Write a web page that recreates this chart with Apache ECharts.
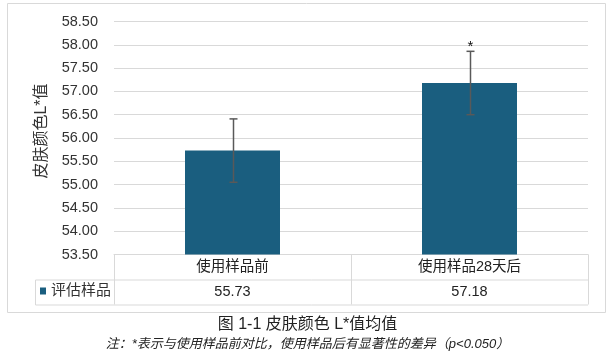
<!DOCTYPE html>
<html>
<head>
<meta charset="utf-8">
<script src="https://cdn.jsdelivr.net/npm/echarts@6/dist/echarts.min.js"></script>
<style>
html,body{margin:0;padding:0;background:#fff;}
#c{width:615px;height:358px;}
</style>
</head>
<body>
<div id="c"></div>
<script>
const categories = ['使用样品前', '使用样品28天后'];
const means = [55.73, 57.18];
const sds = [0.68, 0.68];
const significance = ['', '*'];
const seriesName = '评估样品';
const yMin = 53.5, yMax = 58.5, yStep = 0.5;
const yAxisName = '皮肤颜色L*值';
const captionText = '图 1-1 皮肤颜色 L*值均值';
const noteText = '注：*表示与使用样品前对比，使用样品后有显著性的差异（p<0.050）';

const FONT = '"Liberation Sans", Arial, "Noto Sans CJK SC", sans-serif';
const GRID = {left: 114, right: 27, top: 21.5, bottom: 103.5};
const W = 615, H = 358;
const tableLeft = 35;
const row1Bottom = H - GRID.bottom + 25;
const row2Bottom = H - GRID.bottom + 50;
const lineColor = '#d9d9d9';

const chart = echarts.init(document.getElementById('c'), null, {renderer: 'canvas'});

const option = {
  animation: false,
  textStyle: {fontFamily: FONT},
  title: {
    text: captionText,
    subtext: noteText,
    left: 'center',
    top: 317,
    itemGap: 5,
    padding: 0,
    textStyle: {fontSize: 16, fontWeight: 'normal', color: '#222', fontFamily: FONT},
    subtextStyle: {fontSize: 13, fontStyle: 'italic', color: '#222', fontFamily: FONT}
  },
  legend: {
    data: [seriesName],
    left: tableLeft + 5,
    top: row1Bottom + 4,
    padding: 0,
    icon: 'rect',
    itemWidth: 6,
    itemHeight: 7,
    itemGap: 4,
    textStyle: {fontSize: 15, color: '#333', fontFamily: FONT}
  },
  grid: GRID,
  xAxis: [
    {
      type: 'category',
      data: categories,
      position: 'bottom',
      axisLine: {show: true, lineStyle: {color: lineColor, width: 1}},
      axisTick: {show: true, length: 50, interval: 0, lineStyle: {color: lineColor, width: 1}},
      axisLabel: {margin: 5, fontSize: 14.5, color: '#222', fontFamily: FONT},
      splitLine: {show: false}
    },
    {
      type: 'category',
      data: means.map(v => v.toFixed(2)),
      position: 'bottom',
      offset: 25,
      axisLine: {show: false},
      axisTick: {show: false},
      axisLabel: {margin: 5, fontSize: 14.5, color: '#222', fontFamily: FONT}
    }
  ],
  yAxis: {
    type: 'value',
    min: yMin,
    max: yMax,
    interval: yStep,
    name: yAxisName,
    nameLocation: 'middle',
    nameGap: 64,
    nameTextStyle: {fontSize: 16, color: '#333', fontFamily: FONT, padding: [0, 0, 0, 14]},
    axisLine: {show: false},
    axisTick: {show: false},
    axisLabel: {margin: 16, fontSize: 14.5, color: '#333', fontFamily: FONT, formatter: v => v.toFixed(2)},
    splitLine: {lineStyle: {color: lineColor, width: 1}}
  },
  series: [
    {
      name: seriesName,
      type: 'bar',
      data: means,
      barWidth: 95,
      itemStyle: {color: '#1a5e7f'}
    },
    {
      type: 'custom',
      name: 'err',
      data: means.map((m, i) => [i, m - sds[i], m + sds[i]]),
      z: 10,
      renderItem: function (params, api) {
        const i = api.value(0);
        const lo = api.coord([i, api.value(1)]);
        const hi = api.coord([i, api.value(2)]);
        const x = Math.round(lo[0]) + 0.5;
        const cap = 4;
        const style = {stroke: '#595959', lineWidth: 1.5};
        const children = [
          {type: 'line', shape: {x1: x, y1: lo[1], x2: x, y2: hi[1]}, style},
          {type: 'line', shape: {x1: x - cap, y1: hi[1], x2: x + cap, y2: hi[1]}, style},
          {type: 'line', shape: {x1: x - cap, y1: lo[1], x2: x + cap, y2: lo[1]}, style}
        ];
        if (significance[i]) {
          children.push({
            type: 'text',
            style: {text: significance[i], x: x, y: hi[1] + 3, align: 'center', verticalAlign: 'bottom',
                    fontSize: 15, fill: '#111', fontFamily: FONT}
          });
        }
        return {type: 'group', children};
      }
    }
  ],
  graphic: [
    {type: 'rect', shape: {x: 7.5, y: 3.5, width: 598, height: 309}, style: {fill: 'none', stroke: lineColor, lineWidth: 1}, silent: true},
    {type: 'line', shape: {x1: tableLeft + 0.5, y1: row1Bottom + 0.5, x2: W - GRID.right, y2: row1Bottom + 0.5}, style: {stroke: lineColor, lineWidth: 1}},
    {type: 'line', shape: {x1: tableLeft + 0.5, y1: row2Bottom + 0.5, x2: W - GRID.right, y2: row2Bottom + 0.5}, style: {stroke: lineColor, lineWidth: 1}},
    {type: 'line', shape: {x1: tableLeft + 0.5, y1: row1Bottom + 0.5, x2: tableLeft + 0.5, y2: row2Bottom + 0.5}, style: {stroke: lineColor, lineWidth: 1}}
  ]
};
chart.setOption(option);
</script>
</body>
</html>
